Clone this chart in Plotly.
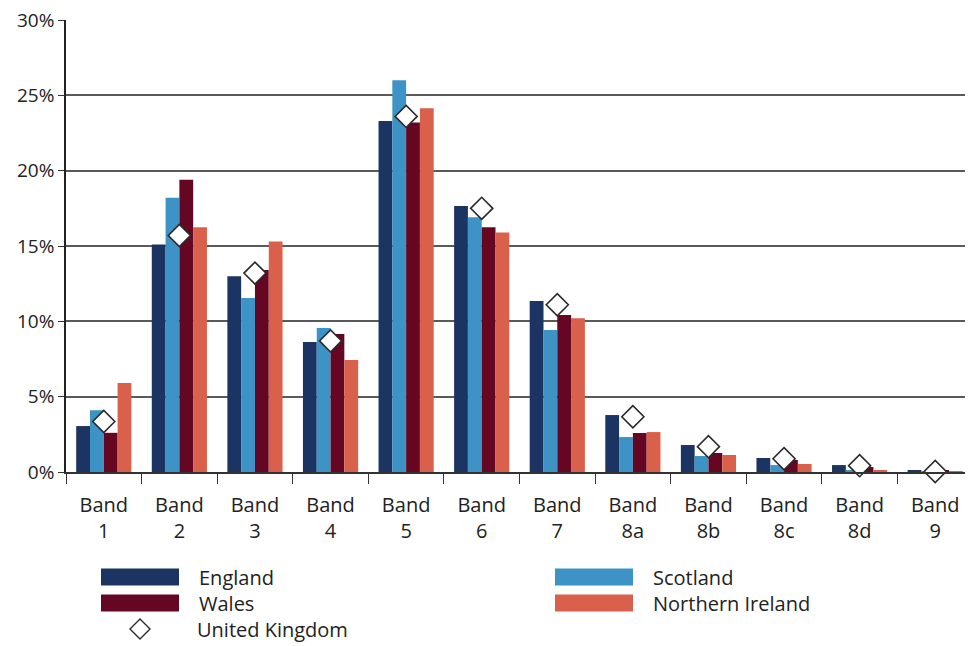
import plotly.graph_objects as go

bands = ["Band 1", "Band 2", "Band 3", "Band 4", "Band 5", "Band 6", "Band 7",
         "Band 8a", "Band 8b", "Band 8c", "Band 8d", "Band 9"]
tick_labels = ["Band<br>1", "Band<br>2", "Band<br>3", "Band<br>4", "Band<br>5", "Band<br>6",
               "Band<br>7", "Band<br>8a", "Band<br>8b", "Band<br>8c", "Band<br>8d", "Band<br>9"]

england = [3.05, 15.1, 13.0, 8.63, 23.3, 17.65, 11.35, 3.78, 1.79, 0.93, 0.46, 0.13]
scotland = [4.1, 18.2, 11.55, 9.56, 26.0, 16.9, 9.42, 2.32, 1.06, 0.46, 0.13, 0.02]
wales = [2.6, 19.4, 13.4, 9.16, 23.2, 16.25, 10.42, 2.59, 1.26, 0.8, 0.33, 0.07]
northern_ireland = [5.9, 16.25, 15.3, 7.43, 24.15, 15.9, 10.2, 2.65, 1.13, 0.53, 0.13, 0.03]
united_kingdom = [3.35, 15.7, 13.2, 8.7, 23.6, 17.5, 11.1, 3.67, 1.68, 0.88, 0.42, 0.03]

colors = {"England": "#1b3461", "Scotland": "#3d93c6", "Wales": "#650722", "Northern Ireland": "#d9614b"}

FONT = "Open Sans"
OFF = 8  # page body margin
W, H = 973 - OFF, 646 - OFF
L, T = 66 - OFF, 20 - OFF
BOTTOM = 472 - OFF
R, B = 0, H - BOTTOM
pw, ph = W - L - R, H - T - B

fig = go.Figure()
for name, vals in [("England", england), ("Scotland", scotland), ("Wales", wales),
                   ("Northern Ireland", northern_ireland)]:
    fig.add_trace(go.Bar(x=bands, y=vals, name=name, marker_color=colors[name],
                         marker_line_width=0, showlegend=False))
fig.add_trace(go.Scatter(x=bands, y=united_kingdom, name="United Kingdom", mode="markers",
                         marker=dict(symbol="diamond", size=17, color="white",
                                     line=dict(color="#2a2a2a", width=1.6)),
                         showlegend=False, cliponaxis=False))

def px(x):
    return (x - OFF - L) / pw

def py(y):
    return (BOTTOM - (y - OFF)) / ph

shapes = []
annotations = []
legend_items = [("England", 101, 577), ("Wales", 101, 603), ("Scotland", 555, 577),
                ("Northern Ireland", 555, 603)]
for name, x0, yc in legend_items:
    shapes.append(dict(type="rect", xref="paper", yref="paper",
                       x0=px(x0), x1=px(x0 + 78), y0=py(yc - 8.5), y1=py(yc + 8.5),
                       fillcolor=colors[name], line=dict(width=0)))
    annotations.append(dict(text=name, xref="paper", yref="paper", x=px(x0 + 96), y=py(yc),
                            xanchor="left", yanchor="middle", showarrow=False,
                            font=dict(family=FONT, size=20, color="#222")))
# UK diamond legend
cx, cy, r = 140, 629, 10
shapes.append(dict(type="path", xref="paper", yref="paper",
                   path=f"M {px(cx-r)} {py(cy)} L {px(cx)} {py(cy-r)} L {px(cx+r)} {py(cy)} L {px(cx)} {py(cy+r)} Z",
                   fillcolor="white", line=dict(color="#2a2a2a", width=1.4)))
annotations.append(dict(text="United Kingdom", xref="paper", yref="paper", x=px(195), y=py(cy),
                        xanchor="left", yanchor="middle", showarrow=False,
                        font=dict(family=FONT, size=20, color="#222")))

fig.update_layout(
    width=W, height=H,
    margin=dict(l=L, r=R, t=T, b=B, pad=0),
    paper_bgcolor="white", plot_bgcolor="white",
    barmode="group", bargap=0.27, bargroupgap=0,
    font=dict(family=FONT, size=20, color="#222"),
    shapes=shapes, annotations=annotations,
    showlegend=False,
)
fig.update_xaxes(
    type="category", tickmode="array", tickvals=bands, ticktext=tick_labels,
    range=[-0.5, len(bands) - 0.5], autorange=False,
    tickson="boundaries", ticks="outside", ticklen=10, tickcolor="#333", tickwidth=1.2,
    showline=True, linecolor="#333", linewidth=1.5, showgrid=False,
    ticklabelstandoff=14,
    tickfont=dict(family=FONT, size=20, color="#222"),
)
fig.update_yaxes(
    range=[0, 30], tickvals=[0, 5, 10, 15, 20, 25, 30],
    ticktext=["0%", "5%", "10%", "15%", "20%", "25%", "30%"],
    showgrid=True, gridcolor="#5a5a5a", gridwidth=1.6,
    showline=True, linecolor="#222", linewidth=1.5,
    ticks="outside", ticklen=6, tickcolor="#333",
    zeroline=False, ticklabeloverflow="allow",
    tickfont=dict(family=FONT, size=19, color="#222"),
)

fig.write_html("out.html")
